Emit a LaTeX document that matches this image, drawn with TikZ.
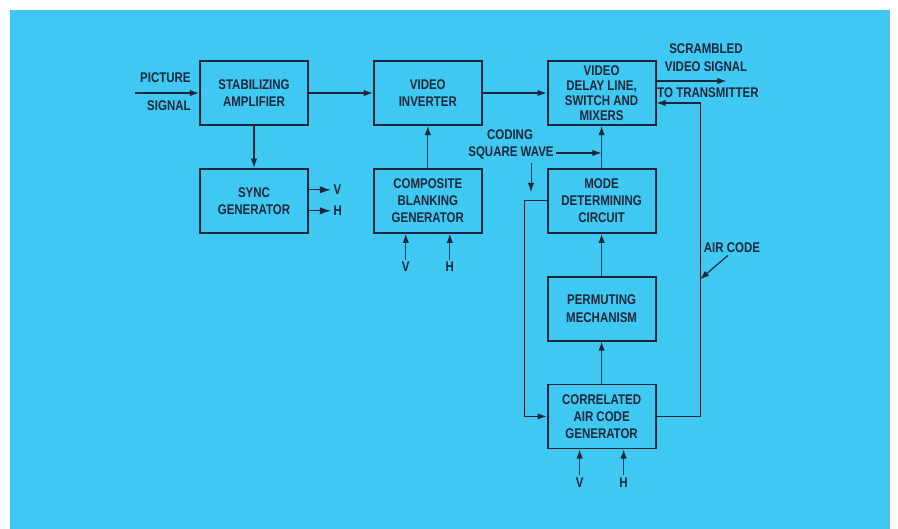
\documentclass[tikz,border=0pt]{standalone}
\usepackage{fontspec}
\setmainfont{Liberation Sans}[FakeStretch=0.82]
\usetikzlibrary{positioning,arrows.meta}
\definecolor{panel}{RGB}{62,200,242}
\definecolor{ink}{RGB}{28,40,58}

\begin{document}
\begin{tikzpicture}[x=0.5pt,y=-0.5pt,
  node distance=21pt and 32pt,
  blk/.style={draw=ink,line width=0.9pt,align=center,text=ink,font=\fontsize{7}{8.6}\selectfont\bfseries,minimum width=54pt,minimum height=32pt,inner sep=2pt},
  lbl/.style={text=ink,font=\fontsize{7}{9}\selectfont\bfseries,inner sep=1pt,align=center},
  sig/.style={draw=ink,line width=0.6pt,-{Latex[length=4.6pt,width=3.2pt]}},
  bigsig/.style={sig,-{Latex[length=5.5pt,width=3.6pt]}}]
\useasboundingbox (0,0) rectangle (898,529);
\fill[panel] (10,10) rectangle (890,529);
% blocks
\node[blk] (amp) at (254,93) {STABILIZING\\AMPLIFIER};
\node[blk,below=of amp] (sync) {SYNC\\GENERATOR};
\node[blk,right=of amp] (inv) {VIDEO\\INVERTER};
\node[blk,below=of inv] (blank) {COMPOSITE\\BLANKING\\GENERATOR};
\node[blk,right=of inv,font=\fontsize{7}{7.6}\selectfont\bfseries] (delay) {VIDEO\\DELAY LINE,\\SWITCH AND\\MIXERS};
\node[blk,below=of delay] (mode) {MODE\\DETERMINING\\CIRCUIT};
\node[blk,below=of mode] (perm) {PERMUTING\\MECHANISM};
\node[blk,below=of perm] (gen) {CORRELATED\\AIR CODE\\GENERATOR};
% labels
\node[lbl,anchor=east] (pic) at (193,78) {PICTURE};
\node[lbl,anchor=east] (sgl) at (193,106) {SIGNAL};
\node[lbl] (scr) at (706,58) {SCRAMBLED\\VIDEO SIGNAL};
\node[lbl] (ttx) at (708,93) {TO TRANSMITTER};
\node[lbl] (cod) at (510,135) {CODING};
\node[lbl] (sqw) at (511,153) {SQUARE WAVE};
\node[lbl] (air) at (732,248) {AIR CODE};
\node[lbl,below=13pt of blank.south,xshift=-11pt] (bv) {V};
\node[lbl,below=13pt of blank.south,xshift=11pt] (bh) {H};
\node[lbl,below=13pt of gen.south,xshift=-11pt] (gv) {V};
\node[lbl,below=13pt of gen.south,xshift=11pt] (gh) {H};
\coordinate[left=32pt of amp.west] (pin);
\coordinate (dn) at (531,163);
% signal paths
\draw[sig] (pin) -- (amp.west); \draw[sig] (amp) -- (inv); \draw[sig] (inv) -- (delay);
\draw[sig] (amp) -- (sync); \draw[sig] (blank) -- (inv);
\draw[sig] (gen) -- (perm); \draw[sig] (perm) -- (mode); \draw[sig] (mode) -- (delay);
\draw[bigsig] ([yshift=5.5pt]sync.east) -- ++(11pt,0) node[lbl,right] (sv) {V};
\draw[bigsig] ([yshift=-5pt]sync.east) -- ++(11pt,0) node[lbl,right] (sh) {H};
\draw[sig] (bv) -- (bv |- blank.south); \draw[sig] (bh) -- (bh |- blank.south);
\draw[sig] (gv) -- (gv |- gen.south); \draw[sig] (gh) -- (gh |- gen.south);
\draw[sig] ([yshift=6pt]delay.east) -- ++(35pt,0) coordinate (tx);
\draw[sig] (gen.east) -- ++(22pt,0) coordinate (fb) |- ([yshift=-5pt]delay.east);
\draw[sig] (mode.west) -- ++(-11pt,0) |- (gen.west);
\draw[sig] (sqw.east) -- (sqw.east -| mode.north);
\draw[sig,line width=0.4pt] (dn) -- ++(0,-14.5pt);
\draw[sig] ([xshift=-2pt]air.south) -- ++(-14pt,-12pt);
\end{tikzpicture}
\end{document}
